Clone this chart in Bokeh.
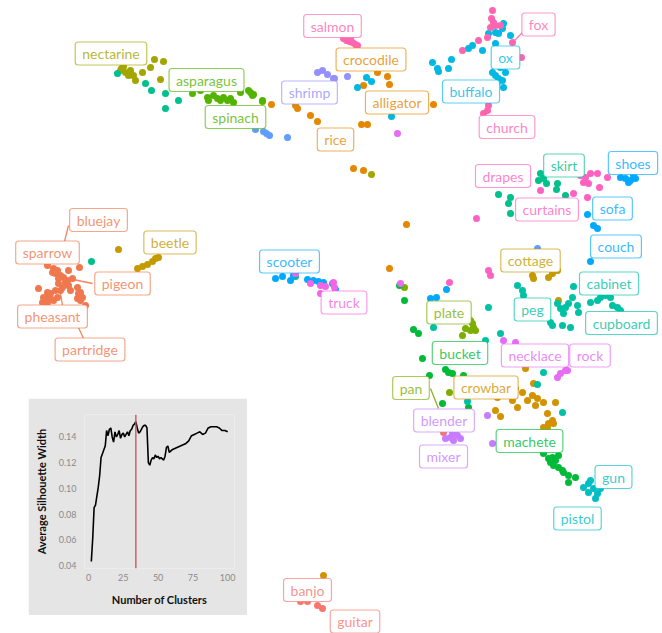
from bokeh.plotting import figure
from bokeh.models import Range1d, ColumnDataSource, Span, FixedTicker
from bokeh.core.properties import value
from bokeh.embed import file_html
from bokeh.resources import INLINE

FONT = "Lato"

# ---------------- cluster colours ----------------
COLORS = {
    "bird": "#F0784E", "music": "#F8766D", "reptile": "#E58700", "crowbar": "#D39200",
    "gold": "#C49A00", "olive": "#A3A500", "lime": "#7CAE00", "veg": "#53B400",
    "green": "#00BA38", "tealgreen": "#00C08B", "teal": "#00C1A3", "cyan": "#00BFC4",
    "sky": "#00B9E3", "blue": "#00A9FF", "blue2": "#619CFF", "lav": "#9590FF",
    "purple": "#C77CFF", "magenta": "#E76BF3", "truck": "#F564E3", "drapes": "#FF61C3",
    "fox": "#FF64B0",
}

# ---------------- embedding points (per cluster) ----------------
bird_x = [47, 53, 57, 55, 60, 58, 63, 67, 68, 70, 65, 62, 72, 79, 68, 38, 43, 47, 50, 55, 60, 53, 47, 42, 45, 50, 77, 78, 82, 80, 77, 85, 57, 52, 58, 44, 48, 80]
bird_y = [265, 268, 270, 273, 275, 278, 277, 280, 285, 290, 282, 287, 278, 267, 270, 288, 297, 292, 293, 290, 290, 300, 302, 302, 305, 298, 287, 293, 297, 300, 298, 305, 297, 272, 283, 298, 296, 292]
music_x = [317, 322, 300, 307, 443]
music_y = [605, 608, 601, 601, 432]
reptile_x = [271, 295, 297, 310, 317, 353, 363, 361, 367, 377, 387, 389, 363, 433, 406, 389]
reptile_y = [104, 105, 108, 115, 121, 168, 170, 124, 124, 72, 76, 84, 85, 104, 224, 268]
crowbar_x = [525, 533, 515, 522, 527, 532, 537, 543, 555, 535, 512, 517, 497, 495, 500, 547, 552, 548, 553, 543, 547, 323]
crowbar_y = [368, 383, 388, 392, 400, 395, 398, 402, 402, 405, 400, 407, 397, 410, 416, 413, 420, 423, 423, 427, 427, 575]
gold_x = [137, 142, 147, 152, 155, 158, 118, 532, 533, 548, 552, 557, 558]
gold_y = [268, 266, 264, 261, 258, 257, 249, 275, 278, 277, 273, 270, 300]
olive_x = [121, 125, 128, 133, 135, 142, 150, 154, 163, 160, 120, 123, 130, 371]
olive_y = [68, 72, 75, 75, 80, 72, 67, 59, 61, 79, 70, 66, 70, 174]
lime_x = [467, 472, 465, 470, 475, 462, 470, 473, 404, 449]
lime_y = [317, 323, 328, 330, 330, 335, 320, 327, 287, 392]
veg_x = [192, 200, 207, 208, 213, 217, 220, 223, 227, 230, 233, 240, 248, 252, 262, 250, 253, 262]
veg_y = [93, 90, 97, 100, 95, 98, 100, 97, 100, 98, 102, 92, 90, 95, 100, 92, 94, 101]
green_x = [404, 399, 413, 418, 422, 445, 448, 452, 429, 463, 442, 468, 543, 548, 552, 555, 550, 558, 553, 558, 562, 563, 568, 575, 568]
green_y = [300, 285, 329, 333, 358, 369, 372, 373, 375, 375, 403, 407, 453, 458, 457, 460, 462, 455, 465, 467, 470, 472, 475, 477, 482]
tealgreen_x = [117, 145, 151, 165, 178, 165, 91, 540, 543, 546, 538, 557, 556, 498, 510, 508, 510, 565, 295]
tealgreen_y = [73, 83, 90, 93, 100, 108, 261, 173, 178, 183, 180, 183, 189, 194, 197, 203, 213, 195, 276]
teal_x = [517, 522, 523, 573, 572, 577, 578, 590, 597, 600, 605, 610, 612, 617, 620, 557, 560, 563, 565, 568, 550, 552, 562, 570, 488, 433, 500, 485, 467, 537, 562, 543]
teal_y = [285, 290, 295, 286, 297, 305, 312, 302, 300, 297, 295, 297, 305, 307, 310, 303, 308, 313, 307, 303, 322, 325, 325, 327, 307, 327, 333, 340, 401, 384, 412, 372]
cyan_x = [583, 588, 590, 593, 597, 600, 595, 588]
cyan_y = [487, 483, 480, 488, 493, 488, 498, 492]
sky_x = [432, 437, 438, 448, 451, 468, 472, 482, 488, 495, 498, 503, 502, 510, 495, 492, 495, 498, 502, 505, 503, 500, 497, 493, 366, 371, 357, 391]
sky_y = [62, 68, 71, 68, 59, 48, 45, 50, 33, 32, 33, 23, 28, 35, 43, 72, 75, 78, 80, 72, 87, 67, 82, 85, 77, 81, 87, 116]
blue_x = [620, 625, 630, 635, 633, 628, 587, 593, 597, 590, 275, 282, 290, 307, 313, 318, 323, 332, 335, 293, 430, 436, 446]
blue_y = [177, 178, 180, 178, 175, 182, 214, 225, 228, 261, 278, 276, 280, 279, 280, 281, 282, 283, 289, 275, 298, 297, 289]
blue2_x = [255, 263, 266, 269, 287, 537]
blue2_y = [129, 131, 133, 135, 137, 248]
lav_x = [317, 322, 327, 334, 347, 333]
lav_y = [72, 70, 74, 78, 76, 78]
purple_x = [487, 445, 452, 457, 460, 453, 450, 492, 455]
purple_y = [415, 438, 433, 435, 438, 440, 437, 443, 430]
magenta_x = [503, 515, 557, 565, 560, 567, 400, 397]
magenta_y = [340, 342, 377, 370, 373, 370, 283, 133]
truck_x = [295, 310, 320, 325, 333, 334, 320]
truck_y = [273, 283, 285, 286, 282, 287, 293]
drapes_x = [580, 585, 590, 597, 583, 588, 607, 599, 573, 587, 540, 476, 488, 490, 449]
drapes_y = [175, 177, 173, 173, 182, 183, 177, 187, 193, 197, 190, 218, 270, 275, 282]
fox_x = [492, 491, 493, 495, 490, 500, 487, 478, 462, 512, 521, 488, 487, 483, 343, 346, 349, 352, 355, 357, 350]
fox_y = [10, 18, 22, 25, 27, 25, 37, 40, 50, 42, 57, 105, 110, 113, 38, 40, 41, 42, 44, 45, 38]

CLUSTERS = [
    ("bird", bird_x, bird_y), ("music", music_x, music_y), ("reptile", reptile_x, reptile_y),
    ("crowbar", crowbar_x, crowbar_y), ("gold", gold_x, gold_y), ("olive", olive_x, olive_y),
    ("lime", lime_x, lime_y), ("veg", veg_x, veg_y), ("green", green_x, green_y),
    ("tealgreen", tealgreen_x, tealgreen_y), ("teal", teal_x, teal_y), ("cyan", cyan_x, cyan_y),
    ("sky", sky_x, sky_y), ("blue", blue_x, blue_y), ("blue2", blue2_x, blue2_y),
    ("lav", lav_x, lav_y), ("purple", purple_x, purple_y), ("magenta", magenta_x, magenta_y),
    ("truck", truck_x, truck_y), ("drapes", drapes_x, drapes_y), ("fox", fox_x, fox_y),
]

# ---------------- word labels ----------------
labels = ["nectarine", "asparagus", "spinach", "salmon", "crocodile", "shrimp", "alligator", "rice",
          "fox", "ox", "buffalo", "church", "drapes", "skirt", "shoes", "curtains", "sofa", "couch",
          "cottage", "cabinet", "peg", "cupboard", "plate", "bucket", "necklace", "rock", "pan",
          "crowbar", "blender", "mixer", "machete", "gun", "pistol", "scooter", "truck", "bluejay",
          "sparrow", "beetle", "pigeon", "pheasant", "partridge", "banjo", "guitar"]
label_x = [110.5, 206, 235, 332, 370.5, 309, 396.5, 335, 538, 505, 470.5, 506.5, 502.5, 563.5, 632.5,
           546.5, 612, 615.5, 530, 608.5, 532, 621, 448.5, 459.5, 534.5, 589.5, 410.5, 485.5, 443.5,
           443, 529, 613, 577, 289, 343.5, 98, 47, 169.5, 122, 52, 89.5, 307, 354.5]
label_y = [53, 79.5, 116.5, 25.5, 59, 92, 102, 139, 24, 57, 91, 126.5, 175.5, 165, 162.5, 209, 208,
           246, 260, 283, 309, 322.5, 312, 352.5, 355, 355, 387.5, 387, 420, 456, 440.5, 476.5, 518,
           261, 302, 219.5, 252, 242, 283, 316, 349, 589.5, 621]
label_group = ["olive", "veg", "veg", "fox", "reptile", "lav", "reptile", "reptile", "fox", "sky", "sky",
               "fox", "drapes", "tealgreen", "blue", "drapes", "blue", "blue", "gold", "teal", "teal",
               "teal", "lime", "green", "magenta", "magenta", "lime", "crowbar", "purple", "purple",
               "green", "cyan", "cyan", "blue", "truck", "bird", "bird", "gold", "bird", "bird", "bird",
               "music", "music"]

# leader segments (label -> point)
seg_x0 = [513, 64, 68, 60, 78, 430]
seg_y0 = [41, 241, 278, 293, 327, 388]
seg_x1 = [523, 68, 92, 62, 83, 438]
seg_y1 = [31, 225, 283, 305, 338, 408]
seg_group = ["fox", "bird", "bird", "bird", "bird", "lime"]

# ---------------- inset: silhouette width ----------------
n_clusters = [2, 3, 4, 5, 6, 7, 8, 9, 10, 11, 12, 13, 14, 15, 16, 17, 18, 19, 20, 21, 22, 23, 24, 25,
              26, 27, 28, 29, 30, 31, 32, 33, 34, 35, 36, 37, 38, 39, 40, 41, 42, 43, 44, 45, 46, 47,
              48, 49, 50, 51, 52, 53, 54, 55, 56, 57, 58, 59, 60, 62, 64, 66, 68, 70, 72, 74, 76, 78,
              80, 82, 84, 86, 88, 90, 92, 94, 96, 98, 100]
silhouette = [0.043, 0.061, 0.085, 0.087, 0.094, 0.101, 0.110, 0.124, 0.127, 0.130, 0.133, 0.145,
              0.141, 0.146, 0.147, 0.140, 0.136, 0.144, 0.140, 0.142, 0.145, 0.139, 0.142, 0.143,
              0.140, 0.142, 0.144, 0.141, 0.145, 0.146, 0.149, 0.150, 0.152, 0.147, 0.143, 0.144,
              0.146, 0.148, 0.149, 0.149, 0.147, 0.120, 0.118, 0.122, 0.124, 0.123, 0.126, 0.124,
              0.125, 0.123, 0.124, 0.123, 0.122, 0.125, 0.132, 0.133, 0.128, 0.129, 0.130, 0.131,
              0.132, 0.133, 0.134, 0.135, 0.137, 0.141, 0.142, 0.143, 0.144, 0.142, 0.143, 0.147,
              0.148, 0.148, 0.148, 0.147, 0.145, 0.145, 0.144]
chosen_k = 34
x_ticks = [0, 25, 50, 75, 100]
x_tick_labels = ["0", "25", "50", "75", "100"]
y_ticks = [0.04, 0.06, 0.08, 0.10, 0.12, 0.14]
y_tick_labels = ["0.04", "0.06", "0.08", "0.10", "0.12", "0.14"]

# ================= main embedding figure =================
p = figure(width=662, height=633, x_range=Range1d(0, 662), y_range=Range1d(633, 0),
           output_backend="svg", toolbar_location=None, min_border=0,
           x_axis_location=None, y_axis_location=None)
p.grid.visible = False
p.outline_line_color = None
p.background_fill_color = "white"
p.styles = {"position": "absolute", "left": "0px", "top": "0px"}

for key, xs, ys in CLUSTERS:
    p.scatter(xs, ys, size=7, color=COLORS[key], line_color=None)

seg_src = ColumnDataSource(dict(x0=seg_x0, y0=seg_y0, x1=seg_x1, y1=seg_y1,
                                c=[COLORS[g] for g in seg_group]))
p.segment("x0", "y0", "x1", "y1", source=seg_src, line_color="c", line_width=1.3, line_alpha=0.9)

lab_src = ColumnDataSource(dict(x=label_x, y=label_y, t=labels, c=[COLORS[g] for g in label_group]))
p.text("x", "y", text="t", source=lab_src, text_font=value(FONT), text_font_size="14px",
       text_color="c", text_alpha=0.8, text_align="center", text_baseline="middle",
       background_fill_color="white", background_fill_alpha=1.0,
       border_line_color="c", border_line_alpha=0.65, border_line_width=1.2,
       padding=(7, 3), border_radius=3)

# ================= inset figure =================
q = figure(frame_width=150, frame_height=154, x_range=Range1d(-2.9, 104.9),
           y_range=Range1d(0.0376, 0.1575), output_backend="svg", toolbar_location=None,
           min_border_left=56, min_border_right=13, min_border_top=16, min_border_bottom=47)
q.background_fill_color = "#E5E5E5"
q.border_fill_color = "#E5E5E5"
q.outline_line_color = None
q.grid.visible = False
q.line(n_clusters, silhouette, line_color="black", line_width=1.6)
q.add_layout(Span(location=chosen_k, dimension="height", line_color="#C0585C", line_width=1.6,
                  line_alpha=0.85))

for ax in (q.xaxis[0], q.yaxis[0]):
    ax.axis_line_color = None
    ax.major_tick_line_color = None
    ax.minor_tick_line_color = None
    ax.major_tick_out = 0
    ax.major_tick_in = 0
    ax.major_label_text_font = FONT
    ax.major_label_text_font_size = "9px"
    ax.major_label_text_color = "#8A8A8A"
    ax.axis_label_text_font = FONT
    ax.axis_label_text_font_style = "bold"
    ax.axis_label_text_font_size = "11px"
    ax.axis_label_text_color = "#111111"

q.xaxis[0].ticker = FixedTicker(ticks=x_ticks)
q.xaxis[0].major_label_overrides = dict(zip(x_ticks, x_tick_labels))
q.yaxis[0].ticker = FixedTicker(ticks=y_ticks)
q.yaxis[0].major_label_overrides = dict(zip(y_ticks, y_tick_labels))
q.xaxis[0].axis_label = "Number of Clusters"
q.yaxis[0].axis_label = "Average Silhouette Width"
q.xaxis[0].major_label_standoff = 5
q.xaxis[0].axis_label_standoff = 9
q.yaxis[0].major_label_standoff = 8
q.yaxis[0].axis_label_standoff = 8
q.styles = {"position": "absolute", "left": "28px", "top": "398px"}

open("out.html", "w").write(file_html([p, q], INLINE))
